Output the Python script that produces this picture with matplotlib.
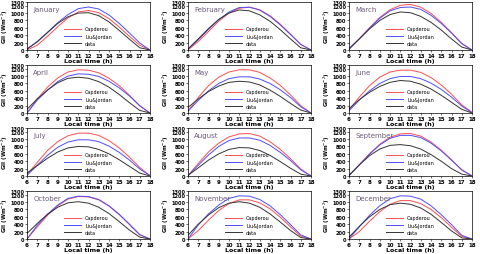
import numpy as np
import matplotlib
matplotlib.use("Agg")
from matplotlib import pyplot as plt

hours = list(range(6, 19))
months = ["January", "February", "March", "April", "May", "June",
          "July", "August", "September", "October", "November", "December"]

# Capderou model (W/m2), hourly from 6h to 18h
capderou = [
    [0, 130, 370, 630, 870, 1030, 1070, 1010, 850, 620, 370, 130, 0],
    [0, 230, 500, 780, 1000, 1130, 1160, 1090, 930, 700, 430, 150, 0],
    [20, 300, 600, 880, 1090, 1210, 1235, 1160, 990, 750, 470, 180, 0],
    [0, 380, 700, 950, 1110, 1170, 1160, 1090, 940, 740, 480, 190, 0],
    [50, 420, 740, 970, 1110, 1170, 1170, 1100, 950, 750, 490, 200, 0],
    [80, 430, 740, 970, 1110, 1160, 1160, 1100, 960, 760, 510, 220, 20],
    [30, 370, 690, 930, 1090, 1160, 1160, 1100, 960, 760, 510, 230, 10],
    [10, 340, 650, 890, 1060, 1140, 1150, 1080, 930, 720, 470, 190, 0],
    [10, 300, 600, 860, 1050, 1140, 1150, 1080, 920, 700, 440, 160, 0],
    [0, 330, 640, 900, 1080, 1150, 1140, 1060, 890, 660, 390, 110, 0],
    [0, 230, 510, 770, 960, 1060, 1060, 980, 820, 590, 330, 80, 0],
    [0, 200, 480, 740, 940, 1040, 1040, 960, 800, 580, 320, 70, 0],
]

# Liu & Jordan model
liu_jordan = [
    [20, 230, 480, 740, 960, 1120, 1165, 1110, 950, 720, 460, 190, 0],
    [20, 280, 560, 820, 1030, 1150, 1160, 1080, 910, 680, 420, 150, 0],
    [20, 300, 590, 860, 1060, 1150, 1165, 1100, 940, 720, 460, 170, 0],
    [0, 350, 620, 850, 1000, 1060, 1050, 990, 860, 680, 460, 200, 0],
    [50, 340, 600, 800, 930, 980, 980, 920, 800, 630, 420, 170, 0],
    [60, 350, 600, 800, 930, 990, 990, 930, 810, 640, 430, 190, 10],
    [20, 290, 560, 780, 920, 980, 980, 930, 810, 640, 430, 190, 10],
    [10, 290, 570, 800, 960, 1030, 1030, 970, 830, 640, 420, 170, 0],
    [10, 300, 590, 840, 1020, 1100, 1100, 1040, 890, 680, 430, 170, 0],
    [0, 370, 670, 920, 1100, 1160, 1150, 1070, 900, 670, 400, 120, 0],
    [0, 380, 680, 920, 1100, 1170, 1160, 1070, 900, 660, 390, 110, 0],
    [0, 330, 640, 900, 1090, 1170, 1160, 1080, 900, 660, 390, 100, 0],
]

# measured data
measured = [
    [30, 220, 470, 720, 900, 1000, 1010, 930, 760, 530, 290, 60, 0],
    [30, 300, 580, 830, 1000, 1085, 1060, 950, 780, 550, 300, 60, 0],
    [40, 300, 570, 800, 960, 1030, 1010, 910, 750, 540, 300, 80, 0],
    [100, 380, 620, 820, 940, 970, 940, 850, 700, 500, 280, 70, 0],
    [150, 380, 580, 730, 830, 860, 840, 760, 620, 450, 260, 80, 0],
    [120, 360, 560, 720, 830, 880, 860, 780, 650, 480, 290, 100, 0],
    [80, 280, 480, 650, 760, 800, 790, 720, 600, 440, 260, 80, 0],
    [20, 220, 430, 600, 720, 770, 760, 690, 560, 390, 210, 50, 0],
    [20, 300, 550, 730, 830, 850, 820, 730, 580, 400, 200, 50, 0],
    [150, 420, 670, 860, 980, 1010, 970, 860, 690, 470, 240, 50, 0],
    [100, 400, 650, 850, 970, 1010, 970, 860, 680, 460, 230, 40, 0],
    [50, 340, 600, 800, 930, 970, 940, 840, 670, 450, 220, 30, 0],
]

W, H = 480, 255
fig = plt.figure(figsize=(W / 100, H / 100), dpi=100)

col_left = [27, 188, 349]
row_top = [3, 66, 129, 192]
aw, ah = 123, 48

for i, name in enumerate(months):
    r, c = divmod(i, 3)
    ax = fig.add_axes([col_left[c] / W, 1 - (row_top[r] + ah) / H, aw / W, ah / H])
    ax.plot(hours, capderou[i], color="#ff4d4d", lw=0.7, label="Capderou")
    ax.plot(hours, liu_jordan[i], color="#4d4dff", lw=0.7, label="Liu&Jordan")
    ax.plot(hours, measured[i], color="#333333", lw=0.7, label="data")
    ax.set_xlim(6, 18)
    ax.set_ylim(0, 1300)
    ax.set_xticks(hours)
    ax.set_yticks([0, 200, 400, 600, 800, 1000, 1200, 1300])
    ax.tick_params(axis="x", labelsize=4, length=1.5, width=0.4, pad=1)
    ax.tick_params(axis="y", labelsize=3.6, length=1.5, width=0.4, pad=0.5)
    for lab in ax.get_xticklabels() + ax.get_yticklabels():
        lab.set_fontweight("bold")
    for s in ax.spines.values():
        s.set_linewidth(0.5)
    ax.set_xlabel("Local time (h)", fontsize=4.5, fontweight="bold", labelpad=0)
    ax.set_ylabel("GII (Wm$^{-2}$)", fontsize=4, fontweight="bold", labelpad=0)
    ax.text(0.05, 0.92, name, transform=ax.transAxes, fontsize=5,
            color="#6a5a7a", va="top", ha="left")
    ax.legend(loc="lower left", bbox_to_anchor=(0.27, 0.0), frameon=False,
              fontsize=3.5, handlelength=3.5, handletextpad=0.8,
              labelspacing=0.5, borderpad=0.3)

fig.savefig("out.png", dpi=100)
